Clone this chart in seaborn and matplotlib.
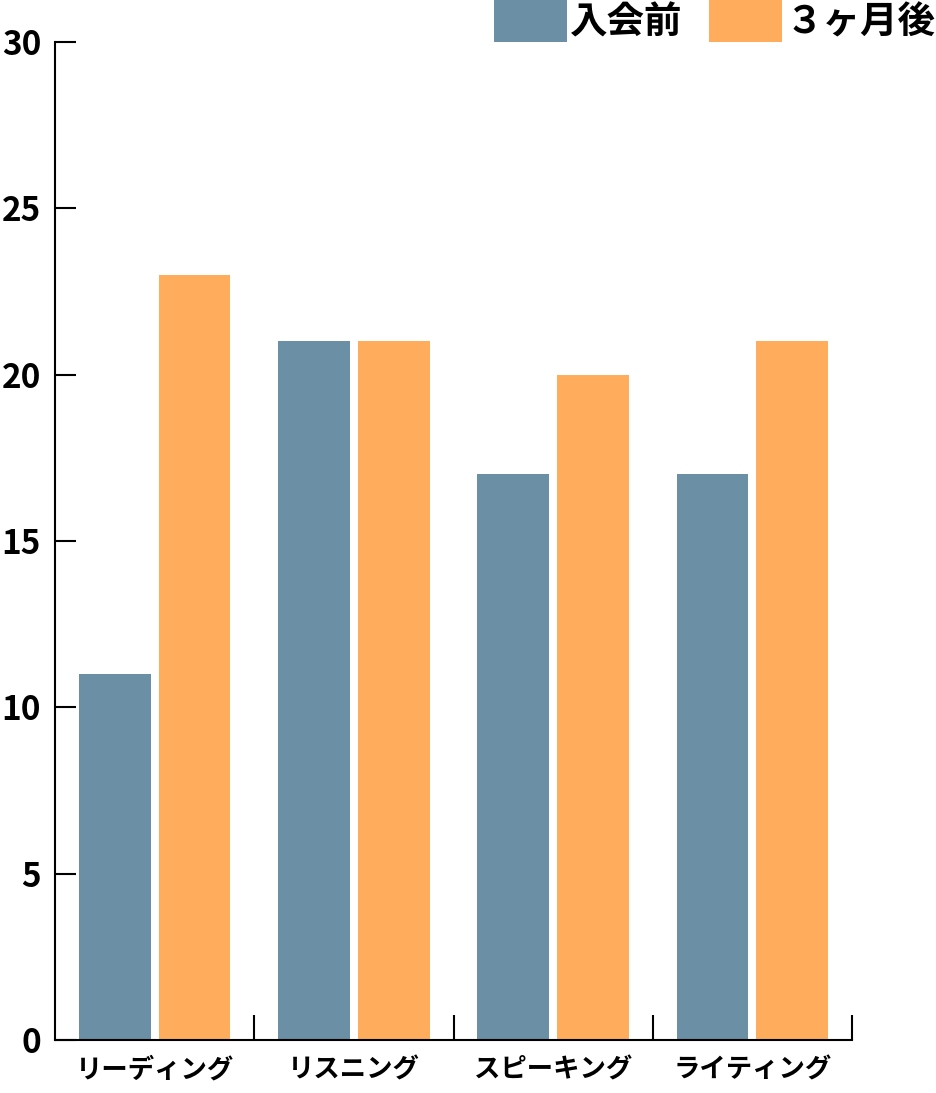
import matplotlib
matplotlib.use("Agg")
import matplotlib.pyplot as plt
import seaborn as sns
import pandas as pd

categories = ["リーディング", "リスニング", "スピーキング", "ライティング"]
before = [11, 21, 17, 17]
after = [23, 21, 20, 21]
series_names = ["入会前", "３ヶ月後"]
colors = ["#6B8FA4", "#FFAD5C"]
yticks = [0, 5, 10, 15, 20, 25, 30]

sns.set_theme(style="white")
plt.rcParams['font.family'] = ['Noto Sans CJK JP', 'DejaVu Sans']
plt.rcParams['text.color'] = 'black'
plt.rcParams['xtick.color'] = 'black'
plt.rcParams['ytick.color'] = 'black'

df = pd.DataFrame({
    "cat": categories * 2,
    "val": before + after,
    "series": [series_names[0]] * 4 + [series_names[1]] * 4,
})

fig = plt.figure(figsize=(9.36, 10.93), dpi=100)
ax = fig.add_axes([55/936, 1 - 1040/1093, (852-55)/936, (1040-42)/1093])
sns.barplot(data=df, x="cat", y="val", hue="series", palette=colors,
            width=0.8, gap=0.1, linewidth=0, saturation=1, ax=ax, legend=True)

ax.set_xlim(-0.5, 3.5)
ax.set_ylim(0, 30)
ax.set_yticks(yticks)
ax.set_xlabel("")
ax.set_ylabel("")
for s in ["top", "right"]:
    ax.spines[s].set_visible(False)
for s in ["left", "bottom"]:
    ax.spines[s].set_linewidth(1.5)
    ax.spines[s].set_color("black")

ax.tick_params(axis="y", left=True, direction="in", length=15, width=1.5,
               color="black", labelcolor="black", pad=10, labelsize=24)
for t in ax.get_yticklabels():
    t.set_fontweight("bold")
ax.set_xticks([0.5 + i for i in range(4)], minor=True)
ax.tick_params(axis="x", which="minor", bottom=True, direction="in", length=18,
               width=1.5, color="black")
ax.tick_params(axis="x", which="major", bottom=True, length=0, pad=12,
               labelsize=19, labelcolor="black")
for t in ax.get_xticklabels():
    t.set_fontweight("bold")

leg = ax.get_legend()
if leg is not None:
    leg.remove()
handles, labels = ax.get_legend_handles_labels()
fig.legend(handles, labels, loc="upper right", bbox_to_anchor=(1.0, 1.0),
           ncol=2, frameon=False, handlelength=1.95, handleheight=1.35,
           handletextpad=0.1, columnspacing=0.7, borderaxespad=0,
           borderpad=0, labelcolor="black",
           prop={"size": 27, "weight": "bold"})

fig.savefig("out.png", dpi=100)
